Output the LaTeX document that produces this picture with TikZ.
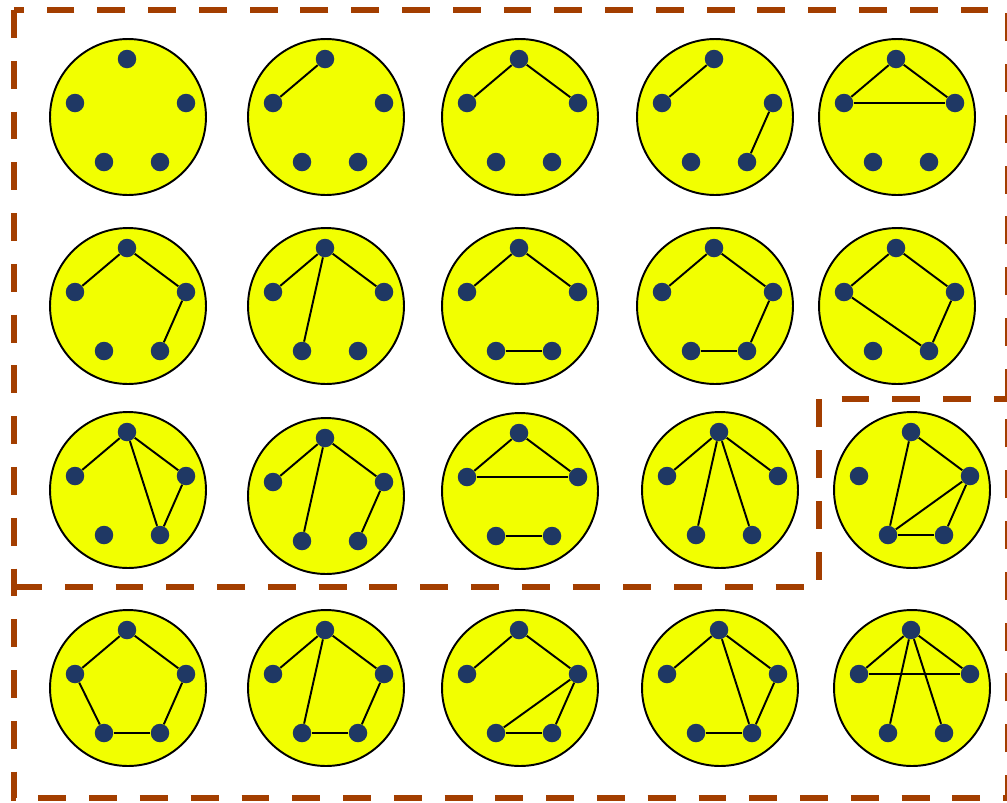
\documentclass[tikz,border=0pt]{standalone}
\usetikzlibrary{calc}

\definecolor{discyellow}{RGB}{242,255,0}
\definecolor{vertblue}{RGB}{31,56,100}
\definecolor{framebrown}{RGB}{163,62,0}

\begin{document}
\begin{tikzpicture}[x=0.02cm,y=-0.02cm,
    disc/.style={shape=circle,draw=black,fill=discyellow,line width=1.1pt,minimum size=3.12cm,inner sep=0pt},
    vert/.style={shape=circle,fill=vertblue,minimum size=0.37cm,inner sep=0pt},
    link/.style={draw=black,line width=1.1pt},
    frame/.style={draw=framebrown,line width=3.4pt,dash pattern=on 15.9pt off 13pt}]
    \useasboundingbox (0,0) rectangle (1007,802);

    % dashed frames
    \draw[frame] (14,10) rectangle (1008,798);
    \draw[frame] (14,587) -- (819,587) -- (819,399) -- (1008,399);

    % discs with five vertices each
    \foreach \n/\x/\y in {1/128/117, 2/326/117, 3/520/117, 4/715/117, 5/897/117,
                          6/128/306, 7/326/306, 8/520/306, 9/715/306, 10/897/306,
                          11/128/490, 12/326/496, 13/520/491, 14/720/490, 15/912/490,
                          16/128/688, 17/326/688, 18/520/688, 19/720/688, 20/912/688} {
        \node[disc] (g\n) at (\x,\y) {};
        \node[vert] (t\n) at (\x-1,\y-58) {};
        \node[vert] (l\n) at (\x-53,\y-14) {};
        \node[vert] (r\n) at (\x+58,\y-14) {};
        \node[vert] (a\n) at (\x-24,\y+45) {};
        \node[vert] (b\n) at (\x+32,\y+45) {};
    }

    \path [link] (t2) edge node {} (l2);

    \path [link] (t3) edge node {} (l3);
    \path [link] (t3) edge node {} (r3);

    \path [link] (t4) edge node {} (l4);
    \path [link] (r4) edge node {} (b4);

    \path [link] (t5) edge node {} (l5);
    \path [link] (t5) edge node {} (r5);
    \path [link] (l5) edge node {} (r5);

    \path [link] (t6) edge node {} (l6);
    \path [link] (t6) edge node {} (r6);
    \path [link] (r6) edge node {} (b6);

    \path [link] (t7) edge node {} (l7);
    \path [link] (t7) edge node {} (r7);
    \path [link] (t7) edge node {} (a7);

    \path [link] (t8) edge node {} (l8);
    \path [link] (t8) edge node {} (r8);
    \path [link] (a8) edge node {} (b8);

    \path [link] (t9) edge node {} (l9);
    \path [link] (t9) edge node {} (r9);
    \path [link] (r9) edge node {} (b9);
    \path [link] (a9) edge node {} (b9);

    \path [link] (t10) edge node {} (l10);
    \path [link] (t10) edge node {} (r10);
    \path [link] (l10) edge node {} (b10);
    \path [link] (r10) edge node {} (b10);

    \path [link] (t11) edge node {} (l11);
    \path [link] (t11) edge node {} (r11);
    \path [link] (t11) edge node {} (b11);
    \path [link] (r11) edge node {} (b11);

    \path [link] (t12) edge node {} (l12);
    \path [link] (t12) edge node {} (r12);
    \path [link] (t12) edge node {} (a12);
    \path [link] (r12) edge node {} (b12);

    \path [link] (t13) edge node {} (l13);
    \path [link] (t13) edge node {} (r13);
    \path [link] (l13) edge node {} (r13);
    \path [link] (a13) edge node {} (b13);

    \path [link] (t14) edge node {} (l14);
    \path [link] (t14) edge node {} (r14);
    \path [link] (t14) edge node {} (a14);
    \path [link] (t14) edge node {} (b14);

    \path [link] (t15) edge node {} (r15);
    \path [link] (t15) edge node {} (a15);
    \path [link] (r15) edge node {} (a15);
    \path [link] (r15) edge node {} (b15);
    \path [link] (a15) edge node {} (b15);

    \path [link] (t16) edge node {} (l16);
    \path [link] (t16) edge node {} (r16);
    \path [link] (l16) edge node {} (a16);
    \path [link] (r16) edge node {} (b16);
    \path [link] (a16) edge node {} (b16);

    \path [link] (t17) edge node {} (l17);
    \path [link] (t17) edge node {} (r17);
    \path [link] (t17) edge node {} (a17);
    \path [link] (r17) edge node {} (b17);
    \path [link] (a17) edge node {} (b17);

    \path [link] (t18) edge node {} (l18);
    \path [link] (t18) edge node {} (r18);
    \path [link] (r18) edge node {} (a18);
    \path [link] (r18) edge node {} (b18);
    \path [link] (a18) edge node {} (b18);

    \path [link] (t19) edge node {} (l19);
    \path [link] (t19) edge node {} (r19);
    \path [link] (t19) edge node {} (b19);
    \path [link] (r19) edge node {} (b19);
    \path [link] (a19) edge node {} (b19);

    \path [link] (t20) edge node {} (l20);
    \path [link] (t20) edge node {} (r20);
    \path [link] (l20) edge node {} (r20);
    \path [link] (t20) edge node {} (a20);
    \path [link] (t20) edge node {} (b20);
\end{tikzpicture}
\end{document}
